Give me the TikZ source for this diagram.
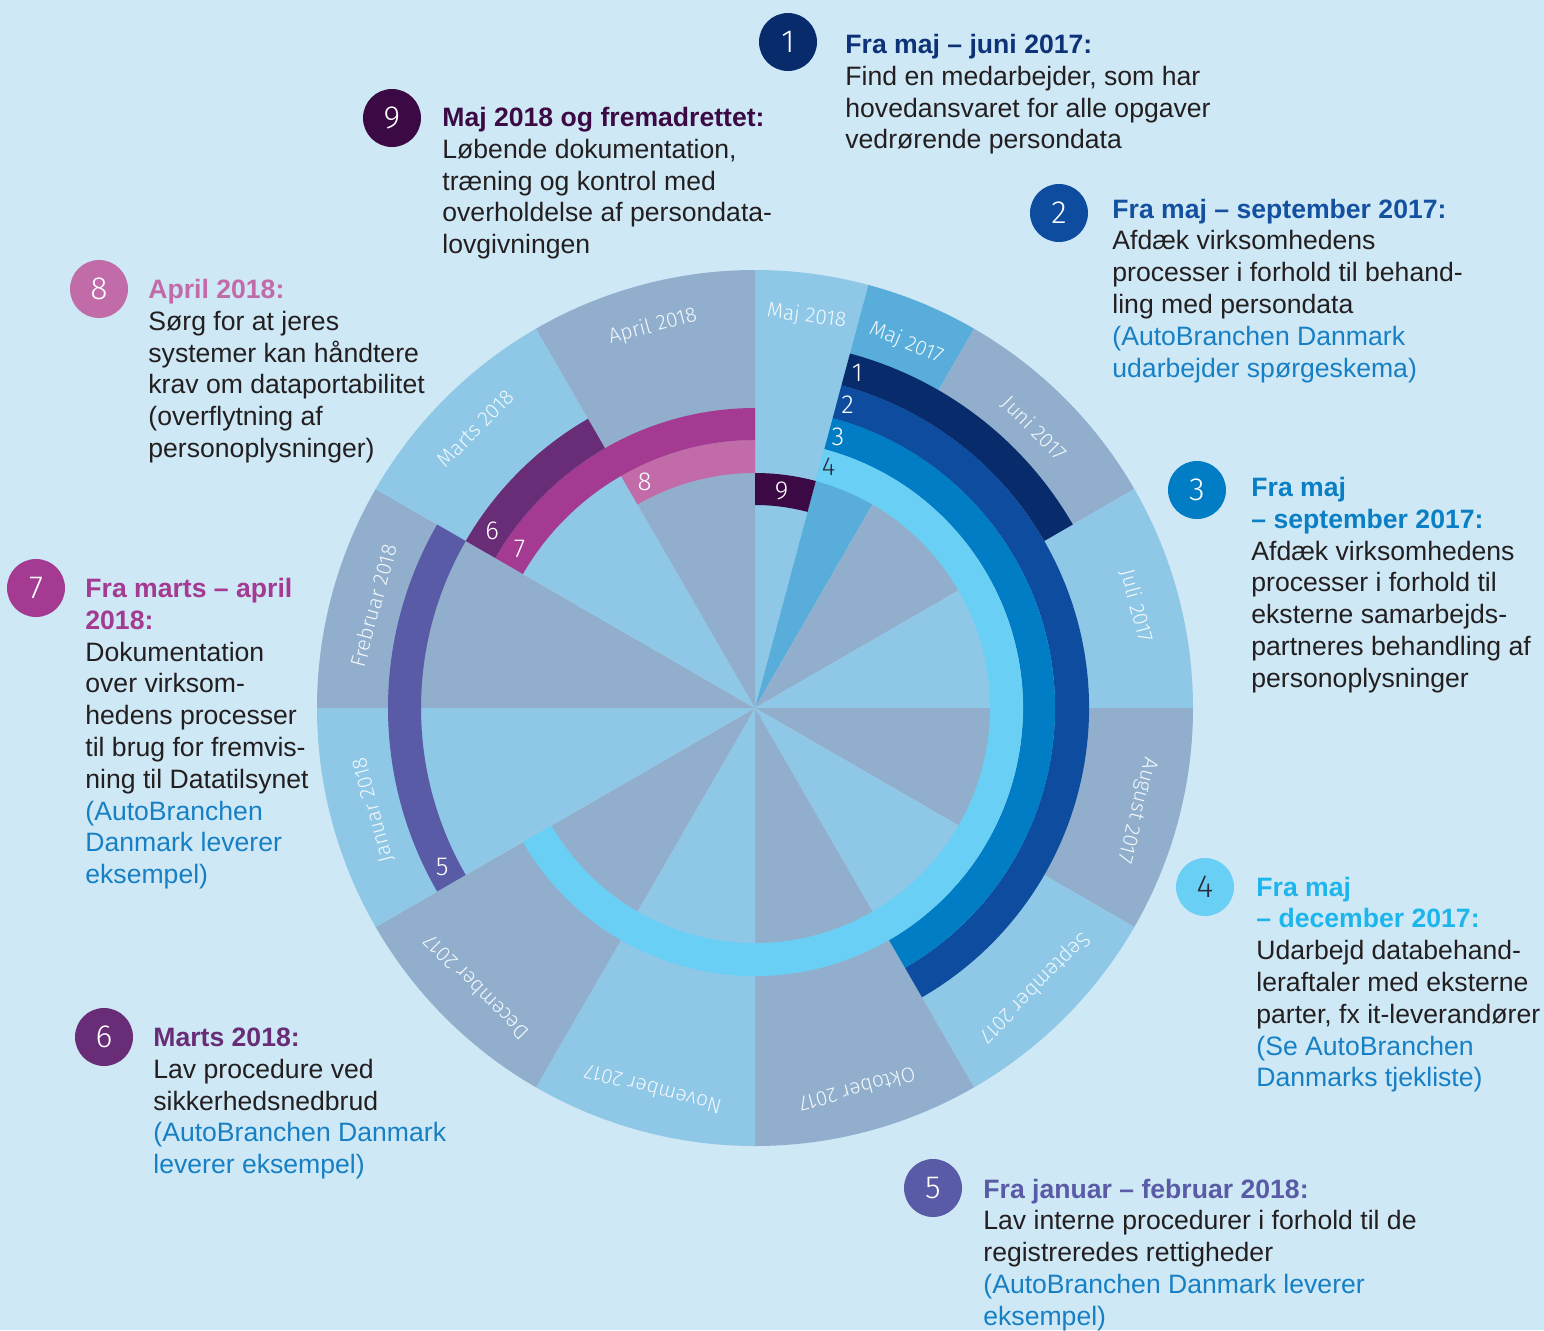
\documentclass[tikz,border=0pt]{standalone}
\usepackage{fontspec}
\setmainfont{Liberation Sans}
\newfontfamily\numfont{Fira Sans Light}
\definecolor{bg}{HTML}{CEE8F5}
\definecolor{seclight}{HTML}{8EC8E6}
\definecolor{secgrey}{HTML}{91AFCC}
\definecolor{secmaj}{HTML}{58ADDB}
\definecolor{rA}{HTML}{072B6B}
\definecolor{rB}{HTML}{0D4C9E}
\definecolor{rC}{HTML}{007DC4}
\definecolor{rD}{HTML}{6ACFF4}
\definecolor{rE}{HTML}{5A5BA6}
\definecolor{rF}{HTML}{692C77}
\definecolor{rG}{HTML}{A43A92}
\definecolor{rH}{HTML}{C26BA9}
\definecolor{rI}{HTML}{3B0A44}
\definecolor{hA}{HTML}{0E3278}
\definecolor{hB}{HTML}{1450A0}
\definecolor{hC}{HTML}{0A7FC4}
\definecolor{hD}{HTML}{1DB6EC}
\definecolor{bodytext}{HTML}{231F20}
\definecolor{notecol}{HTML}{1780C4}
\definecolor{lbl}{HTML}{F2F8FC}
\definecolor{darknum}{HTML}{2A2A3A}
\newcommand\headtxt[2]{\textcolor{#1}{\bfseries #2}}
\newcommand\notetxt[1]{\textcolor{notecol}{#1}}
\newcommand\sectorfill[3]{\fill[#1] (0,0) -- (#2:438) arc[start angle=#2,end angle=#3,radius=438] -- cycle;}
\newcommand\ringseg[5]{\fill[#1] (#2:#4) arc[start angle=#2,end angle=#3,radius=#4] -- (#3:#5) arc[start angle=#3,end angle=#2,radius=#5] -- cycle;}
\tikzset{
  numcirc/.style={circle, minimum size=29pt, inner sep=0pt, text=white, font=\numfont\fontsize{16}{16}\selectfont},
  txt/.style={anchor=base west, inner sep=0pt, text=bodytext, font=\fontsize{13.3}{15.9}\selectfont},
  monthlbl/.style={text=lbl, inner sep=0pt, font=\numfont\fontsize{10.5}{10.5}\selectfont},
  ringlbl/.style={text=white, inner sep=0pt, font=\numfont\fontsize{13}{13}\selectfont},
}
\begin{document}
\begin{tikzpicture}[x=0.5pt,y=-0.5pt]
\useasboundingbox (0,0) rectangle (1544,1330);
\fill[bg] (0,0) rectangle (1544,1330);
\begin{scope}[shift={(755,708)},yscale=-1]
  % sectors
  \sectorfill{seclight}{75}{90}
  \sectorfill{secmaj}{60}{75}
  \sectorfill{secgrey}{30}{60}
  \sectorfill{seclight}{0}{30}
  \sectorfill{secgrey}{-30}{0}
  \sectorfill{seclight}{-60}{-30}
  \sectorfill{secgrey}{-90}{-60}
  \sectorfill{seclight}{-120}{-90}
  \sectorfill{secgrey}{-150}{-120}
  \sectorfill{seclight}{-180}{-150}
  \sectorfill{secgrey}{150}{180}
  \sectorfill{seclight}{120}{150}
  \sectorfill{secgrey}{90}{120}
  % rings
  \ringseg{rA}{30}{75}{334}{367}
  \ringseg{rB}{-60}{75}{300}{334}
  \ringseg{rC}{-60}{75}{268}{300}
  \ringseg{rD}{-150}{75}{235}{268}
  \ringseg{rI}{75}{90}{203}{235}
  \ringseg{rH}{90}{120}{235}{268}
  \ringseg{rG}{90}{150}{268}{300}
  \ringseg{rF}{120}{150}{300}{334}
  \ringseg{rE}{150}{210}{334}{367}
  % ring labels
  \node[ringlbl] (g1) at (73:350) {1};
  \node[ringlbl] (g2) at (73:317) {2};
  \node[ringlbl] (g3) at (73:284) {3};
  \node[ringlbl, text=darknum] (g4) at (73:252) {4};
  \node[ringlbl] (g9) at (83:219) {9};
  \node[ringlbl] (g8) at (116:252) {8};
  \node[ringlbl] (g7) at (146:284) {7};
  \node[ringlbl] (g6) at (146:317) {6};
  \node[ringlbl] (g5) at (207:351) {5};
  % month labels
  \node[monthlbl, rotate=-7.5] (m1) at (82.5:395) {Maj 2018};
  \node[monthlbl, rotate=-22.5] (m2) at (67.5:395) {Maj 2017};
  \node[monthlbl, rotate=-45] (m3) at (45:395) {Juni 2017};
  \node[monthlbl, rotate=-75] (m4) at (15:395) {Juli 2017};
  \node[monthlbl, rotate=-105] (m5) at (-15:395) {August 2017};
  \node[monthlbl, rotate=-135] (m6) at (-45:395) {September 2017};
  \node[monthlbl, rotate=-165] (m7) at (-75:395) {Oktober 2017};
  \node[monthlbl, rotate=-195] (m8) at (-105:395) {November 2017};
  \node[monthlbl, rotate=-225] (m9) at (-135:395) {December 2017};
  \node[monthlbl, rotate=105] (m10) at (195:395) {Januar 2018};
  \node[monthlbl, rotate=75] (m11) at (165:395) {Frebruar 2018};
  \node[monthlbl, rotate=45] (m12) at (135:395) {Marts 2018};
  \node[monthlbl, rotate=15] (m13) at (105:395) {April 2018};
\end{scope}
% numbered circles
\node[numcirc, fill=rA] (c1) at (788,42) {1};
\node[numcirc, fill=rB] (c2) at (1059,213) {2};
\node[numcirc, fill=rC] (c3) at (1197,490) {3};
\node[numcirc, fill=rD, text=darknum] (c4) at (1205,887) {4};
\node[numcirc, fill=rE] (c5) at (933,1188) {5};
\node[numcirc, fill=rF] (c6) at (104,1037) {6};
\node[numcirc, fill=rG] (c7) at (36,588) {7};
\node[numcirc, fill=rH] (c8) at (99,289) {8};
\node[numcirc, fill=rI] (c9) at (392,118) {9};
% text blocks
\node[txt] (t1) at (845,53.5) {\begin{tabular}[t]{@{}l@{}}\headtxt{hA}{Fra maj – juni 2017:}\\ Find en medarbejder, som har\\ hovedansvaret for alle opgaver\\ vedrørende persondata\end{tabular}};
\node[txt] (t2) at (1112,218) {\begin{tabular}[t]{@{}l@{}}\headtxt{hB}{Fra maj – september 2017:}\\ Afdæk virksomhedens\\ processer i forhold til behand-\\ ling med persondata\\ \notetxt{(AutoBranchen Danmark}\\ \notetxt{udarbejder spørgeskema)}\end{tabular}};
\node[txt] (t3) at (1251,496.5) {\begin{tabular}[t]{@{}l@{}}\headtxt{hC}{Fra maj}\\ \headtxt{hC}{– september 2017:}\\ Afdæk virksomhedens\\ processer i forhold til\\ eksterne samarbejds-\\ partneres behandling af\\ personoplysninger\end{tabular}};
\node[txt] (t4) at (1256,896) {\begin{tabular}[t]{@{}l@{}}\headtxt{hD}{Fra maj}\\ \headtxt{hD}{– december 2017:}\\ Udarbejd databehand-\\ leraftaler med eksterne\\ parter, fx it-leverandører\\ \notetxt{(Se AutoBranchen}\\ \notetxt{Danmarks tjekliste)}\end{tabular}};
\node[txt] (t5) at (983,1198) {\begin{tabular}[t]{@{}l@{}}\headtxt{rE}{Fra januar – februar 2018:}\\ Lav interne procedurer i forhold til de\\ registreredes rettigheder\\ \notetxt{(AutoBranchen Danmark leverer}\\ \notetxt{eksempel)}\end{tabular}};
\node[txt] (t6) at (153,1046.5) {\begin{tabular}[t]{@{}l@{}}\headtxt{rF}{Marts 2018:}\\ Lav procedure ved\\ sikkerhedsnedbrud\\ \notetxt{(AutoBranchen Danmark}\\ \notetxt{leverer eksempel)}\end{tabular}};
\node[txt] (t7) at (85,597.5) {\begin{tabular}[t]{@{}l@{}}\headtxt{rG}{Fra marts – april}\\ \headtxt{rG}{2018:}\\ Dokumentation\\ over virksom-\\ hedens processer\\ til brug for fremvis-\\ ning til Datatilsynet\\ \notetxt{(AutoBranchen}\\ \notetxt{Danmark leverer}\\ \notetxt{eksempel)}\end{tabular}};
\node[txt] (t8) at (148,298.5) {\begin{tabular}[t]{@{}l@{}}\headtxt{rH}{April 2018:}\\ Sørg for at jeres\\ systemer kan håndtere\\ krav om dataportabilitet\\ (overflytning af\\ personoplysninger)\end{tabular}};
\node[txt] (t9) at (442,126.5) {\begin{tabular}[t]{@{}l@{}}\headtxt{rI}{Maj 2018 og fremadrettet:}\\ Løbende dokumentation,\\ træning og kontrol med\\ overholdelse af persondata-\\ lovgivningen\end{tabular}};
\end{tikzpicture}
\end{document}
